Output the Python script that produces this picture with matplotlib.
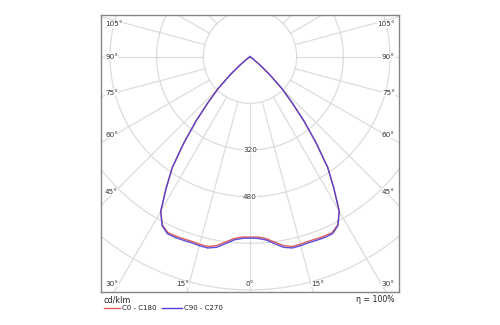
import numpy as np
import matplotlib
matplotlib.use("Agg")
import matplotlib.pyplot as plt
from matplotlib.lines import Line2D

# luminous intensity distribution (cd/klm), gamma measured from nadir
gamma = [0, 2.5, 5, 7.5, 10, 12.5, 15, 17.5, 20, 22.5, 25, 27.5, 30, 32.5,
         35, 37.5, 40, 42.5, 45, 47.5, 50, 52.5, 55, 60, 90, 180]
c0_c180 = [619, 619, 626, 641, 658, 667, 666, 664, 665, 666, 666, 651, 612, 535,
           465, 372, 287, 212, 154, 93, 45, 14, 0, 0, 0, 0]
c90_c270 = [622, 624, 631, 647, 664, 672, 671, 669, 670, 671, 670, 653, 612, 535,
            465, 372, 287, 212, 154, 93, 45, 14, 0, 0, 0, 0]

ring_values = [160, 320, 480, 640, 800, 960]
ring_labels = [320, 480]
angle_labels = [105, 90, 75, 60, 45, 30, 15, 0]
legend_names = ["C0 - C180", "C90 - C270"]
eta = "η = 100%"
unit = "cd/klm"

red = "#e05c5c"
blue = "#4a3fd8"
gridc = "#dcdcdc"

W, H = 500, 325
S = 160 / 46.67  # cd/klm per pixel

fig = plt.figure(figsize=(W / 100, H / 100), dpi=100)
ax = fig.add_axes([0.2025, 0.1025, 0.595, 0.8514])
ax.set_xlim(-510, 510)
ax.set_ylim(-806, 143)
ax.set_xticks([])
ax.set_yticks([])
for sp in ax.spines.values():
    sp.set_color("#858585")
    sp.set_linewidth(1.0)

# polar grid
t = np.linspace(0, 2 * np.pi, 400)
for r in ring_values:
    ax.plot(r * np.cos(t), r * np.sin(t), color=gridc, lw=0.9, zorder=1)
for a in range(0, 360, 15):
    ar = np.radians(a)
    ax.plot([160 * np.sin(ar), 1200 * np.sin(ar)],
            [-160 * np.cos(ar), -1200 * np.cos(ar)], color=gridc, lw=0.9, zorder=1)

# curves: C0 on the right, C180 on the left (same for C90/C270)
g = np.radians(np.array(gamma))
def outline(vals):
    v = np.array(vals, dtype=float)
    x = np.concatenate([-v[::-1] * np.sin(g[::-1]), v[1:] * np.sin(g[1:])])
    y = np.concatenate([-v[::-1] * np.cos(g[::-1]), -v[1:] * np.cos(g[1:])])
    return x, y

xr, yr = outline(c0_c180)
xb, yb = outline(c90_c270)
ax.plot(xr, yr, color=red, lw=1.0, zorder=3, solid_joinstyle="round")
ax.plot(xb, yb, color=blue, lw=1.0, alpha=0.9, zorder=4, solid_joinstyle="round")

# ring value labels
for v in ring_labels:
    ax.text(0, -v, str(v), ha="center", va="center", fontsize=5.2, color="#333333",
            bbox=dict(facecolor="white", edgecolor="none", pad=0.3), zorder=5)

# angle labels around the frame
side = 135 * S
bottom = -227.6 * S
top = 32.4 * S
for a in angle_labels:
    ar = np.radians(a)
    sides = [-1, 1] if a != 0 else [1]
    for s in sides:
        if a != 0 and -side / np.tan(ar) > bottom:
            y = min(-side / np.tan(ar), top)
            x = s * 145 * S
            ha = "left" if s < 0 else "right"
        else:
            y = bottom
            x = s * (-bottom) * np.tan(ar)
            ha = "center" if a == 0 else ("right" if s < 0 else "left")
        ax.text(x, y, f"{a}°", ha=ha, va="center", fontsize=5.2, color="#333333",
                bbox=dict(facecolor="white", edgecolor="none", pad=0.2), zorder=5)

# legend below the frame
fig.text(103.3 / W, 1 - 300 / H, unit, ha="left", va="center", fontsize=5.8, color="#222222")
fig.text(394 / W, 1 - 300 / H, eta, ha="right", va="center", fontsize=5.6, color="#222222")
ly = 1 - 308.3 / H
for (x0, x1, tx), name, c in zip([(104, 120, 121.7), (161.7, 181.7, 184.3)], legend_names, [red, blue]):
    fig.add_artist(Line2D([x0 / W, x1 / W], [ly, ly], color=c, lw=1.0))
    fig.text(tx / W, ly, name, ha="left", va="center", fontsize=5.0, color="#222222")

fig.savefig("out.png", dpi=100)
